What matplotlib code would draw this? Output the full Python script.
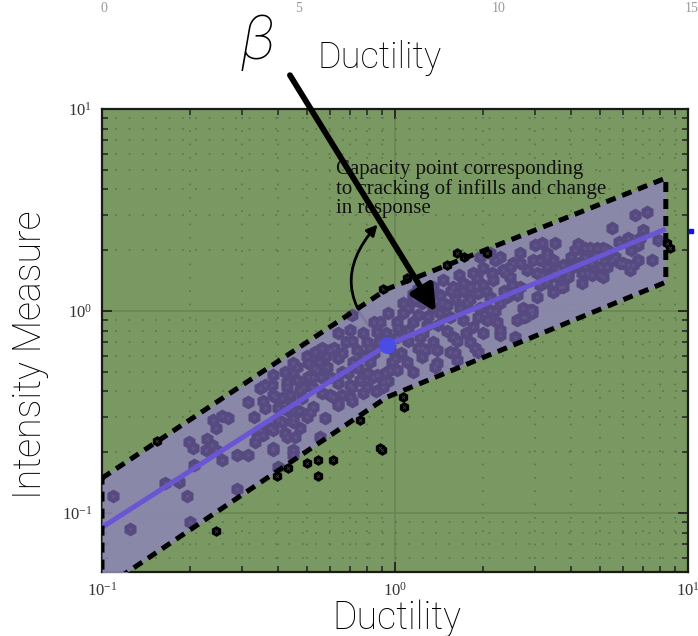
import matplotlib
matplotlib.use("Agg")
import matplotlib.pyplot as plt
from matplotlib.patches import FancyArrowPatch

plt.rcParams['mathtext.fontset'] = 'stix'
plt.rcParams['font.family'] = ['Liberation Serif', 'DejaVu Sans']

# ---------------- data ----------------
knot_ductility = [0.1, 0.94, 8.4]
median_im = [0.085, 0.68, 2.55]
upper_im = [0.149, 1.285, 4.55]
lower_im = [0.042, 0.375, 1.39]

capacity_ductility = 0.94
capacity_im = 0.68

inside_ductility = [
    0.109, 0.125, 0.164, 0.183, 0.195, 0.20, 0.198, 0.204, 0.206, 0.228,
    0.237, 0.226, 0.245, 0.257, 0.239, 0.257, 0.269, 0.245, 0.289, 0.315,
    0.289, 0.315, 0.354, 0.36, 0.383, 0.411, 0.428, 0.438, 0.421, 0.383,
    0.354, 0.338, 0.333, 0.383, 0.411, 0.449, 0.456, 0.449, 0.40, 0.428,
    0.449, 0.449, 0.485, 0.525, 0.525, 0.513, 0.614, 0.637, 0.716, 0.778,
    0.716, 0.691, 0.80, 0.871, 0.91, 0.961, 0.449, 0.428, 0.383, 0.555,
    0.474, 0.40, 0.374, 0.346, 0.389, 0.463, 0.505, 0.533, 0.563, 0.60,
    0.637, 0.586, 0.542, 0.505, 0.463, 0.428, 0.577, 0.637, 0.702, 0.702,
    0.76, 0.841, 0.91, 0.925, 0.702, 0.716, 0.778, 0.741, 0.822, 0.871,
    0.889, 0.946, 1.016, 1.062, 1.062, 1.151, 1.239, 1.315, 1.425, 1.107,
    1.107, 1.194, 1.239, 1.396, 1.396, 1.37, 1.239, 1.0, 1.016, 0.961,
    1.016, 0.716, 0.637, 0.474, 0.383, 0.346, 0.563, 0.60, 0.659, 0.449,
    1.107, 1.17, 1.239, 1.194, 1.285, 1.216, 1.265, 1.577, 1.629, 1.541,
    1.845, 1.875, 1.92, 1.629, 1.762, 1.92, 1.95, 2.11, 2.11, 2.28,
    2.41, 2.28, 2.57, 2.73, 2.78, 2.94, 3.06, 3.13, 3.18, 3.31,
    2.67, 2.53, 2.34, 2.19, 2.0, 1.845, 1.706, 1.577, 1.459, 1.349,
    3.01, 3.18, 2.67, 2.47, 2.16, 2.0, 1.803, 1.667, 1.504, 1.425,
    1.541, 1.706, 1.92, 2.06, 2.23, 3.52, 4.11, 4.45, 4.89, 5.11,
    5.52, 6.0, 6.49, 5.52, 6.59, 7.24, 7.90, 6.22, 6.85, 7.53,
    4.52, 5.01, 4.35, 3.88, 3.74, 3.57, 3.45, 4.06, 4.72, 2.89,
    2.61, 2.73, 2.28, 3.31, 2.96, 2.82, 2.67, 2.47, 2.28, 2.11,
    1.95, 6.73, 5.11, 4.63, 4.45, 5.64, 6.22, 6.73, 6.34, 5.86,
    5.30, 5.11, 4.72, 4.35, 3.66, 2.94, 3.31, 3.45, 3.13, 3.74,
    3.88, 3.45, 3.06, 7.01, 1.20, 1.15,
    0.58, 0.62, 0.66, 0.68, 0.72, 0.75, 0.78, 0.82, 0.85, 0.88,
    0.66, 0.60, 0.55, 0.50, 0.53, 0.64, 0.80, 0.86, 0.95, 0.98,
    1.05, 1.10, 1.15, 1.02, 0.93, 0.85, 0.80,
    1.30, 1.35, 1.45, 1.60, 1.70, 1.80, 1.55, 1.40, 1.50, 1.75,
    2.00, 2.20, 2.35, 2.50, 2.40, 2.60, 2.15, 1.90, 1.65, 1.25,
    1.15, 1.35, 1.60, 1.80, 2.05,
    0.33, 0.36, 0.40, 0.44, 0.48, 0.52, 0.50, 0.47, 0.42, 0.38, 0.56,
    3.30, 3.60, 4.00, 4.30, 4.80, 5.30, 5.80, 6.40, 5.00, 4.20,
]
inside_im = [
    0.121, 0.083, 0.141, 0.143, 0.121, 0.090, 0.224, 0.211, 0.173, 0.232,
    0.217, 0.205, 0.205, 0.183, 0.289, 0.304, 0.297, 0.265, 0.194, 0.194,
    0.131, 0.355, 0.36, 0.43, 0.384, 0.371, 0.42, 0.384, 0.249, 0.258,
    0.243, 0.237, 0.224, 0.205, 0.281, 0.281, 0.237, 0.194, 0.169, 0.443,
    0.493, 0.556, 0.42, 0.471, 0.335, 0.316, 0.375, 0.351, 0.36, 0.393,
    0.42, 0.493, 0.493, 0.482, 0.443, 0.511, 0.205, 0.237, 0.211, 0.237,
    0.265, 0.289, 0.265, 0.416, 0.375, 0.528, 0.556, 0.624, 0.66, 0.641,
    0.585, 0.528, 0.511, 0.471, 0.455, 0.324, 0.297, 0.343, 0.375, 0.43,
    0.455, 0.471, 0.42, 0.493, 0.805, 0.71, 0.778, 0.641, 0.66, 0.79,
    0.88, 0.98, 0.88, 0.98, 1.10, 1.16, 1.10, 1.17, 1.20, 0.805,
    0.71, 0.66, 0.66, 0.641, 0.556, 0.528, 0.592, 0.585, 0.511, 0.66,
    0.743, 0.955, 0.778, 0.406, 0.482, 0.258, 0.393, 0.384, 0.384, 0.297,
    1.04, 1.13, 1.20, 0.955, 0.85, 0.743, 0.641, 0.743, 0.71, 0.624,
    0.83, 0.66, 0.624, 0.572, 1.10, 1.23, 1.04, 1.17, 1.01, 1.10,
    1.17, 0.76, 0.743, 1.04, 0.93, 1.01, 1.17, 1.35, 1.51, 1.65,
    1.94, 1.73, 1.60, 1.79, 1.63, 1.55, 1.38, 1.31, 1.42, 1.31,
    2.12, 2.18, 1.31, 1.47, 1.42, 1.35, 1.31, 1.04, 1.07, 0.98,
    0.93, 0.90, 0.93, 0.90, 0.88, 2.18, 2.0, 2.06, 2.06, 1.89,
    1.79, 1.73, 1.69, 2.59, 2.99, 3.09, 2.25, 2.31, 2.31, 1.79,
    1.55, 1.51, 1.38, 1.47, 1.31, 1.47, 1.24, 1.65, 1.73, 1.01,
    0.90, 0.93, 0.805, 1.85, 1.79, 1.60, 1.73, 1.65, 1.85, 1.94,
    1.85, 2.12, 2.06, 2.06, 1.85, 1.85, 1.69, 1.79, 1.60, 1.73,
    1.65, 1.47, 1.51, 1.55, 1.31, 0.98, 1.94, 1.79, 1.79, 1.69,
    1.55, 1.55, 1.55, 2.52, 1.28, 1.22,
    0.60, 0.66, 0.62, 0.70, 0.56, 0.52, 0.60, 0.56, 0.62, 0.70,
    0.50, 0.47, 0.56, 0.60, 0.52, 0.44, 0.42, 0.40, 0.45, 0.56,
    0.62, 0.56, 0.50, 0.82, 0.78, 0.88, 0.70,
    0.95, 1.05, 1.10, 1.15, 1.25, 1.15, 1.25, 0.85, 0.80, 0.78,
    0.78, 1.00, 1.25, 1.35, 1.55, 1.20, 1.55, 1.45, 1.50, 0.78,
    0.88, 0.70, 0.62, 0.70, 1.25,
    0.30, 0.33, 0.33, 0.35, 0.37, 0.42, 0.30, 0.32, 0.50, 0.43, 0.47,
    1.40, 1.62, 1.85, 1.75, 1.90, 2.00, 2.20, 2.00, 1.65, 2.15,
]

outside_ductility = [0.154, 0.245, 0.395, 0.43, 0.50, 0.545, 0.545, 0.614,
                     0.76, 0.889, 0.90, 1.065, 1.07, 0.91, 1.10, 1.50, 1.63,
                     1.72, 2.06, 8.7, 8.5]
outside_im = [0.227, 0.082, 0.152, 0.167, 0.177, 0.183, 0.152, 0.183,
              0.289, 0.21, 0.205, 0.375, 0.335, 1.285, 1.46, 1.69, 1.94,
              1.85, 1.94, 2.05, 2.17]

x_ticks = [0.1, 1, 10]
y_ticks = [0.1, 1, 10]
top_strip_labels = ['0', '5', '10', '15']

# ---------------- figure ----------------
W, H = 698, 636
fig = plt.figure(figsize=(W / 100, H / 100), dpi=100)
ax = fig.add_axes([102 / W, 1 - 572 / H, (688 - 102) / W, (572 - 109) / H])
ax.set_xscale('log')
ax.set_yscale('log')
ax.set_xlim(0.1, 10)
ax.set_ylim(0.0511, 10)
ax.set_facecolor('#7a9962')

ax.grid(which='major', color='#6a8755', lw=1.3, ls='-', zorder=0)
ax.grid(which='minor', color='#5a7548', lw=1.2, ls=(0, (1, 7)), zorder=0)
ax.set_axisbelow(True)

ax.tick_params(which='both', direction='in', top=True, right=True,
               colors='#222222', labelcolor='#333333')
ax.tick_params(which='major', length=7, width=1.3, labelsize=12, pad=7)
ax.tick_params(which='minor', length=4, width=1.1)
ax.set_xticks(x_ticks)
ax.set_yticks(y_ticks)
for s in ax.spines.values():
    s.set_linewidth(1.6)
    s.set_color('#1a1a1a')

# curved annotation arrow (below the band)
curve = FancyArrowPatch(posA=(0.925, 0.70), posB=(0.872, 2.68),
                        connectionstyle='arc3,rad=-0.5', arrowstyle='-|>',
                        mutation_scale=16, lw=2.0, color='black', zorder=2,
                        shrinkA=0, shrinkB=0)
ax.add_patch(curve)

# band
ax.fill_between(knot_ductility, lower_im, upper_im, color='#8c87b0',
                alpha=0.9, lw=0, zorder=3)
band_x = knot_ductility + knot_ductility[::-1] + [knot_ductility[0]]
band_y = upper_im + lower_im[::-1] + [upper_im[0]]
ax.plot(band_x, band_y, color='black', lw=3.6, ls=(0, (2.0, 1.4)), zorder=6)

# points
ax.scatter(inside_ductility, inside_im, marker='h', s=100, color='#574a80',
           lw=0, zorder=4)
ax.scatter(inside_ductility, inside_im, marker='x', s=5, color='#685d90',
           lw=0.5, zorder=4.1)
ax.scatter(outside_ductility, outside_im, marker='h', s=60, color='black',
           lw=0, zorder=5)
ax.scatter(outside_ductility, outside_im, marker='x', s=5, color='#444444',
           lw=0.5, zorder=5.1)

# median line
ax.plot(knot_ductility, median_im, color='#6a55d2', lw=3.6, zorder=5.5,
        solid_capstyle='butt')
ax.scatter([capacity_ductility], [capacity_im], s=150, color='#4b4be6',
           zorder=5.6, lw=0)
ax.plot([10.25], [2.5], marker='s', ms=3, color='#1010ff', clip_on=False,
        zorder=7)

# annotation text
ax.text(0.63, 4.0,
        'Capacity point corresponding\nto cracking of infills and change\nin response',
        family='Liberation Serif', fontsize=15, color='#111111',
        va='center', ha='left', linespacing=1.0, zorder=7)

# big arrow from the beta label
ax.annotate('', xy=(1.38, 0.99), xytext=(0.438, 14.7),
            arrowprops=dict(arrowstyle='-|>', lw=4.2, color='black',
                            mutation_scale=38, shrinkA=0, shrinkB=0),
            annotation_clip=False, zorder=8)

# labels
label_font = dict(family=['Roboto', 'DejaVu Sans'], fontweight='light',
                  color='black')
fig.text(397 / W, 1 - 618 / H, 'Ductility', ha='center', va='center',
         fontsize=27, **label_font)
fig.text(30 / W, 1 - 355 / H, 'Intensity Measure', ha='center', va='center',
         rotation=90, fontsize=27, **label_font)
fig.text(380 / W, 1 - 58 / H, 'Ductility', ha='center', va='center',
         fontsize=26, **label_font)
fig.text(258 / W, 1 - 42 / H, 'β', ha='center', va='center', fontsize=44,
         style='italic', **label_font)

# faint strip at top (cut-off tick labels of another panel)
for lbl, px in zip(top_strip_labels, [104, 299, 499, 692]):
    fig.text(px / W, 1 - 9 / H, lbl, ha='center', va='center',
             family='Liberation Serif', fontsize=10, color='#9a9a9a')

fig.savefig('out.png', dpi=100)
